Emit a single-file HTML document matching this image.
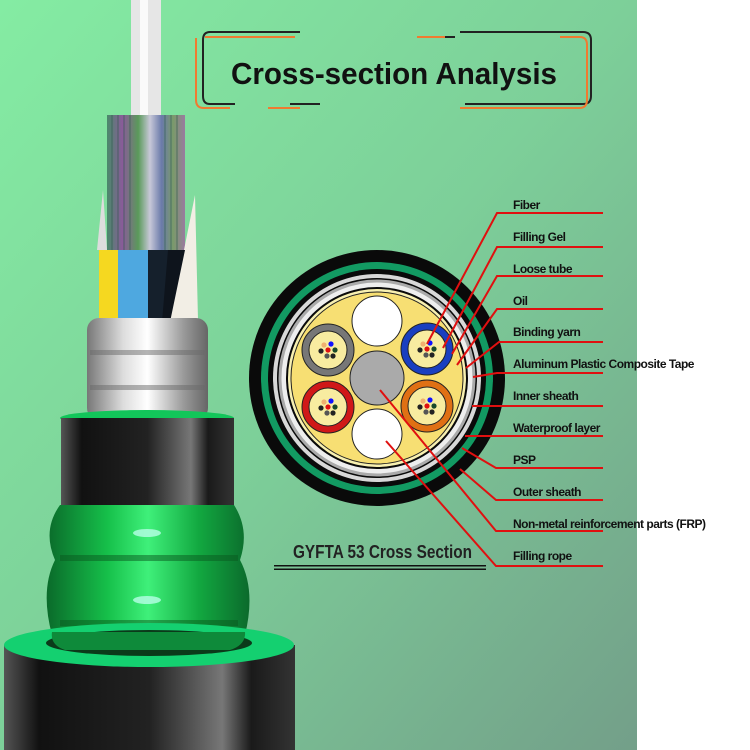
<!DOCTYPE html>
<html><head><meta charset="utf-8"><style>
html,body{margin:0;padding:0;width:750px;height:750px;overflow:hidden;background:#fff}
svg{display:block}
text{font-family:"Liberation Sans",sans-serif}
</style></head><body>
<svg width="750" height="750" viewBox="0 0 750 750" xmlns="http://www.w3.org/2000/svg">
<defs>
<linearGradient id="bg" x1="0" y1="0" x2="1" y2="1">
<stop offset="0" stop-color="#84eca3"/><stop offset="0.5" stop-color="#7dcf99"/><stop offset="1" stop-color="#739f89"/>
</linearGradient>
<linearGradient id="blk" x1="0" x2="1">
<stop offset="0" stop-color="#555"/><stop offset="0.12" stop-color="#111"/><stop offset="0.5" stop-color="#222"/><stop offset="0.75" stop-color="#777"/><stop offset="0.85" stop-color="#1a1a1a"/><stop offset="1" stop-color="#333"/>
</linearGradient>
<linearGradient id="grn" x1="0" x2="1">
<stop offset="0" stop-color="#0a6a2a"/><stop offset="0.3" stop-color="#16c04a"/><stop offset="0.5" stop-color="#3ff07a"/><stop offset="0.75" stop-color="#12a840"/><stop offset="1" stop-color="#0b6a2c"/>
</linearGradient>
<linearGradient id="sil" x1="0" x2="1">
<stop offset="0" stop-color="#777"/><stop offset="0.3" stop-color="#ddd"/><stop offset="0.5" stop-color="#fff"/><stop offset="0.8" stop-color="#999"/><stop offset="1" stop-color="#666"/>
</linearGradient>
<linearGradient id="fib" x1="0" x2="1">
<stop offset="0" stop-color="#4a8a6a"/><stop offset="0.2" stop-color="#8a5a9a"/><stop offset="0.4" stop-color="#5a9a5a"/><stop offset="0.55" stop-color="#c8c8d8"/><stop offset="0.7" stop-color="#6a7aaa"/><stop offset="0.85" stop-color="#7a9a6a"/><stop offset="1" stop-color="#9a7aa0"/>
</linearGradient>
<g id="fb">
<circle cx="-4" cy="-5" r="2.6" fill="#f0b070"/><circle cx="3" cy="-6" r="2.6" fill="#1010ff"/><circle cx="0" cy="0" r="2.6" fill="#e01010"/>
<circle cx="-7" cy="1" r="2.6" fill="#222"/><circle cx="7" cy="0" r="2.6" fill="#1a4a2a"/><circle cx="-1" cy="6" r="2.6" fill="#555"/><circle cx="5" cy="6" r="2.6" fill="#222"/>
</g>
</defs>
<rect width="750" height="750" fill="#fff"/>
<rect width="637" height="750" fill="url(#bg)"/>

<!-- title -->
<g fill="none" stroke-width="2">
<path d="M300 32 H210 Q203 32 203 40 V96 Q203 104 210 104 H235" stroke="#222"/>
<path d="M196 38 V100 Q196 108 204 108 H230" stroke="#f07a30"/>
<path d="M295 37 H205" stroke="#f07a30"/>
<path d="M460 32 H583 Q591 32 591 40 V96 Q591 104 583 104 H465" stroke="#222"/>
<path d="M560 37 H580 Q587 37 587 45 V100 Q587 108 579 108 H460" stroke="#f07a30"/>
<path d="M290 104 H320 M417 37 H455" stroke="#222"/>
<path d="M268 108 H300 M417 37 H445" stroke="#f07a30"/>
</g>
<text x="231" y="84" font-size="31" font-weight="bold" fill="#111" textLength="326" lengthAdjust="spacingAndGlyphs">Cross-section Analysis</text>

<!-- left cable -->
<rect x="131" y="0" width="30" height="125" fill="#e6e6e6"/>
<rect x="140" y="0" width="8" height="125" fill="#fafafa"/>
<rect x="107" y="115" width="78" height="135" fill="url(#fib)"/>
<g stroke-width="1" opacity="0.6">
<path d="M112 115V250M118 115V250M124 115V250M130 115V250M165 115V250M171 115V250M177 115V250" stroke="#2a5a4a"/>
</g>
<path d="M97 250 L103 190 L107 250 Z" fill="#ddd"/>
<path d="M170 320 L195 195 L198 320 Z" fill="#f2eee5"/>
<rect x="99" y="250" width="20" height="72" fill="#f5d820"/>
<rect x="118" y="250" width="30" height="72" fill="#4ea8e0"/>
<rect x="148" y="250" width="20" height="72" fill="#15202c"/>
<path d="M168 250 L185 250 L170 322 L162 322Z" fill="#0e141c"/>
<rect x="87" y="318" width="121" height="102" rx="12" fill="url(#sil)"/>
<g fill="#6a6a6a" opacity="0.5"><rect x="90" y="350" width="115" height="5"/><rect x="90" y="385" width="115" height="5"/></g>
<ellipse cx="147" cy="418" rx="87" ry="8" fill="#12c65a"/>
<rect x="61" y="418" width="173" height="92" fill="url(#blk)"/>
<path d="M60 505 H234 Q250 530 240 560 Q256 590 245 635 H52 Q40 590 55 560 Q42 530 60 505Z" fill="url(#grn)"/>
<g fill="#0a5a20" opacity="0.5"><rect x="60" y="555" width="178" height="6"/><rect x="60" y="620" width="178" height="6"/></g>
<g fill="#b8ffe8" opacity="0.8"><ellipse cx="147" cy="533" rx="14" ry="4"/><ellipse cx="147" cy="600" rx="14" ry="4"/></g>
<rect x="4" y="645" width="291" height="105" fill="url(#blk)"/>
<ellipse cx="149" cy="645" rx="145" ry="22" fill="#14d070"/>
<ellipse cx="149" cy="643" rx="103" ry="13" fill="#0b3a1a"/>
<path d="M52 632 H245 Q246 645 230 650 H65 Q50 645 52 632Z" fill="#0e8a3a"/>

<!-- cross section -->
<g transform="translate(377,378)">
<circle r="128" fill="#0a0a0a"/>
<circle r="116" fill="#129a62"/>
<circle r="109" fill="#0a0a0a"/>
<circle r="104" fill="#d8d8d8"/>
<circle r="100" fill="#0a0a0a"/>
<circle r="97" fill="#eee" stroke="#aaa" stroke-width="3"/>
<circle r="91" fill="#0a0a0a"/>
<circle r="89" fill="#f8f0b0"/>
<circle r="86" fill="#f7df73" stroke="#222" stroke-width="1"/>
<circle cx="0" cy="-57" r="25" fill="#fff" stroke="#222"/>
<circle cx="0" cy="56" r="25" fill="#fff" stroke="#222"/>
<circle cx="0" cy="0" r="27" fill="#aaa" stroke="#222"/>
<circle cx="-49" cy="-28" r="26" fill="#777" stroke="#222"/><circle cx="-49" cy="-28" r="19" fill="#f8eca0" stroke="#222"/>
<circle cx="50" cy="-29" r="26" fill="#1a3fc0" stroke="#222"/><circle cx="50" cy="-29" r="19" fill="#f8eca0" stroke="#222"/>
<circle cx="-49" cy="29" r="26" fill="#d01818" stroke="#222"/><circle cx="-49" cy="29" r="19" fill="#f8eca0" stroke="#222"/>
<circle cx="50" cy="28" r="26" fill="#e07014" stroke="#222"/><circle cx="50" cy="28" r="19" fill="#f8eca0" stroke="#222"/>
<use href="#fb" x="-49" y="-28"/><use href="#fb" x="50" y="-29"/><use href="#fb" x="-49" y="29"/><use href="#fb" x="50" y="28"/>
</g>

<!-- leaders -->
<g fill="none" stroke="#e01010" stroke-width="2">
<path d="M603 213H497L427 344"/>
<path d="M603 247H497L443 348"/>
<path d="M603 276H497L452 354"/>
<path d="M603 309H497L457 365"/>
<path d="M603 342H499L466 368"/>
<path d="M603 373H497L473 377"/>
<path d="M603 406H497L472 406"/>
<path d="M603 436H465"/>
<path d="M603 468H496L462 448"/>
<path d="M603 500H496L460 469"/>
<path d="M603 531H496L380 390"/>
<path d="M603 566H496L386 441"/>
</g>
<g font-size="12" font-weight="bold" fill="#111" letter-spacing="-0.5">
<text x="513" y="209">Fiber</text>
<text x="513" y="241">Filling Gel</text>
<text x="513" y="273">Loose tube</text>
<text x="513" y="305">Oil</text>
<text x="513" y="336">Binding yarn</text>
<text x="513" y="368">Aluminum Plastic Composite Tape</text>
<text x="513" y="400">Inner sheath</text>
<text x="513" y="432">Waterproof layer</text>
<text x="513" y="464">PSP</text>
<text x="513" y="496">Outer sheath</text>
<text x="513" y="528">Non-metal reinforcement parts (FRP)</text>
<text x="513" y="560">Filling rope</text>
</g>
<text x="293" y="558" font-size="18" font-weight="bold" fill="#222" textLength="179" lengthAdjust="spacingAndGlyphs">GYFTA 53 Cross Section</text>
<rect x="274" y="565" width="212" height="1.5" fill="#111"/>
<rect x="274" y="568.5" width="212" height="1.5" fill="#111"/>
</svg>
</body></html>
